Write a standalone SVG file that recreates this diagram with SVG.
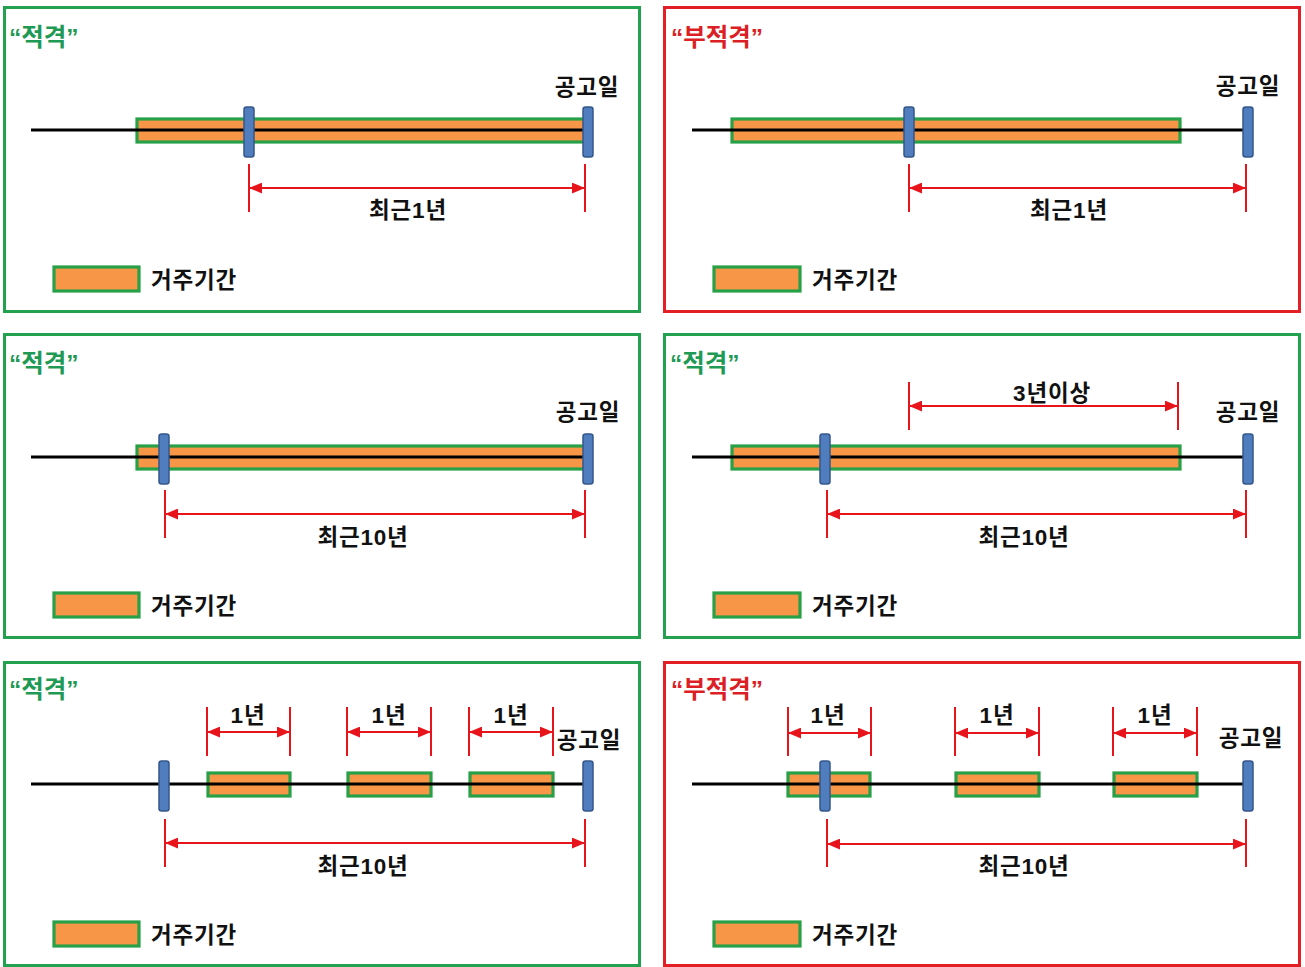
<svg xmlns="http://www.w3.org/2000/svg" width="1305" height="967" viewBox="0 0 1305 967">
<style>
text{font-family:"Liberation Sans","Noto Sans CJK KR",sans-serif;font-weight:bold;font-size:22.5px;letter-spacing:0.8px;fill:#111}
.c{text-anchor:middle}
.tg,.tr{font-size:24.5px;letter-spacing:0}
.tg{fill:#1f9a55}
.tr{fill:#dc1f26}
.fg{fill:#fff;stroke:#22a24f;stroke-width:3}
.fr{fill:#fff;stroke:#e31e24;stroke-width:3}
.bar{fill:#f79646;stroke:#27a047;stroke-width:3.2}
.tl{stroke:#000;stroke-width:3.2}
.tk{fill:#4f7dbd;stroke:#34578c;stroke-width:1.5}
.dl{stroke:#e8141c;stroke-width:2;fill:none}
.da{stroke:#e8141c;stroke-width:2;fill:none;marker-start:url(#ah);marker-end:url(#ah)}
</style>
<defs>
<marker id="ah" markerUnits="userSpaceOnUse" markerWidth="13" markerHeight="11" refX="12" refY="5" orient="auto-start-reverse" viewBox="0 0 12 10">
<path d="M0,0 L12,5 L0,10 z" fill="#e8141c"/>
</marker>
</defs>
<rect width="1305" height="967" fill="#fff"/>

<g id="panel-tl">
<rect class="fg" x="4.5" y="7.5" width="635" height="304"/>
<text class="tg" x="9" y="46">“적격”</text>
<rect class="bar" x="137" y="119" width="448" height="23"/>
<line class="tl" x1="31" y1="130" x2="587" y2="130"/>
<rect class="tk" x="244" y="107" width="10" height="50" rx="2.5"/>
<rect class="tk" x="583" y="107" width="10" height="50" rx="2.5"/>
<text class="c" x="587" y="95">공고일</text>
<text class="c" x="408" y="218">최근1년</text>
<rect class="bar" x="54" y="267" width="85" height="24"/>
<text x="151" y="288">거주기간</text>
</g>

<g id="panel-tr">
<rect class="fr" x="664.5" y="7.5" width="635" height="304"/>
<text class="tr" x="671" y="46">“부적격”</text>
<rect class="bar" x="732" y="119" width="448" height="23"/>
<line class="tl" x1="692" y1="130" x2="1248" y2="130"/>
<rect class="tk" x="904" y="107" width="10" height="50" rx="2.5"/>
<rect class="tk" x="1243" y="107" width="10" height="50" rx="2.5"/>
<text class="c" x="1248" y="94">공고일</text>
<text class="c" x="1069" y="218">최근1년</text>
<rect class="bar" x="714" y="267" width="86" height="24"/>
<text x="812" y="288">거주기간</text>
</g>

<g id="panel-ml">
<rect class="fg" x="4.5" y="334.5" width="635" height="303"/>
<text class="tg" x="9" y="372">“적격”</text>
<rect class="bar" x="137" y="446" width="448" height="23"/>
<line class="tl" x1="31" y1="457" x2="587" y2="457"/>
<rect class="tk" x="159" y="434" width="10" height="50" rx="2.5"/>
<rect class="tk" x="583" y="434" width="10" height="50" rx="2.5"/>
<text class="c" x="588" y="420">공고일</text>
<text class="c" x="363" y="545">최근10년</text>
<rect class="bar" x="54" y="593" width="85" height="24"/>
<text x="151" y="614">거주기간</text>
</g>

<g id="panel-mr">
<rect class="fg" x="664.5" y="334.5" width="635" height="303"/>
<text class="tg" x="670" y="372">“적격”</text>
<rect class="bar" x="732" y="446" width="448" height="23"/>
<line class="tl" x1="692" y1="457" x2="1248" y2="457"/>
<rect class="tk" x="820" y="434" width="10" height="50" rx="2.5"/>
<rect class="tk" x="1243" y="434" width="10" height="50" rx="2.5"/>
<text class="c" x="1052" y="401">3년이상</text>
<text class="c" x="1248" y="420">공고일</text>
<text class="c" x="1024" y="545">최근10년</text>
<rect class="bar" x="714" y="593" width="86" height="24"/>
<text x="812" y="614">거주기간</text>
</g>

<g id="panel-bl">
<rect class="fg" x="4.5" y="662.5" width="635" height="303"/>
<text class="tg" x="9" y="698">“적격”</text>
<rect class="bar" x="208" y="773" width="82" height="23"/>
<rect class="bar" x="348" y="773" width="83" height="23"/>
<rect class="bar" x="470" y="773" width="83" height="23"/>
<line class="tl" x1="31" y1="784" x2="587" y2="784"/>
<rect class="tk" x="159" y="761" width="10" height="50" rx="2.5"/>
<rect class="tk" x="583" y="761" width="10" height="50" rx="2.5"/>
<text class="c" x="248" y="723">1년</text>
<text class="c" x="389" y="723">1년</text>
<text class="c" x="511" y="723">1년</text>
<text class="c" x="589" y="748">공고일</text>
<text class="c" x="363" y="874">최근10년</text>
<rect class="bar" x="54" y="922" width="85" height="24"/>
<text x="151" y="943">거주기간</text>
</g>

<g id="panel-br">
<rect class="fr" x="664.5" y="662.5" width="635" height="303"/>
<text class="tr" x="671" y="698">“부적격”</text>
<rect class="bar" x="788" y="773" width="82" height="23"/>
<rect class="bar" x="956" y="773" width="83" height="23"/>
<rect class="bar" x="1114" y="773" width="83" height="23"/>
<line class="tl" x1="692" y1="784" x2="1248" y2="784"/>
<rect class="tk" x="820" y="761" width="10" height="50" rx="2.5"/>
<rect class="tk" x="1243" y="761" width="10" height="50" rx="2.5"/>
<text class="c" x="828" y="723">1년</text>
<text class="c" x="997" y="723">1년</text>
<text class="c" x="1155" y="723">1년</text>
<text class="c" x="1251" y="746">공고일</text>
<text class="c" x="1024" y="874">최근10년</text>
<rect class="bar" x="714" y="922" width="86" height="24"/>
<text x="812" y="943">거주기간</text>
</g>

<g id="connectors">
<path class="dl" d="M249,164V212M585,164V212"/>
<line class="da" x1="249" y1="188" x2="585" y2="188"/>
<path class="dl" d="M909,164V212M1246,164V212"/>
<line class="da" x1="909" y1="188" x2="1246" y2="188"/>
<path class="dl" d="M165,490V538M585,490V538"/>
<line class="da" x1="165" y1="514" x2="585" y2="514"/>
<path class="dl" d="M909,382V430M1178,382V430"/>
<line class="da" x1="909" y1="406" x2="1178" y2="406"/>
<path class="dl" d="M827,490V538M1246,490V538"/>
<line class="da" x1="827" y1="514" x2="1246" y2="514"/>
<path class="dl" d="M207,707V756M290,707V756M347,707V756M431,707V756M469,707V756M553,707V756"/>
<line class="da" x1="207" y1="732" x2="290" y2="732"/>
<line class="da" x1="347" y1="732" x2="431" y2="732"/>
<line class="da" x1="469" y1="732" x2="553" y2="732"/>
<path class="dl" d="M165,819V867M585,819V867"/>
<line class="da" x1="165" y1="843" x2="585" y2="843"/>
<path class="dl" d="M788,707V756M871,707V756M955,707V756M1039,707V756M1113,707V756M1197,707V756"/>
<line class="da" x1="788" y1="733" x2="871" y2="733"/>
<line class="da" x1="955" y1="733" x2="1039" y2="733"/>
<line class="da" x1="1113" y1="733" x2="1197" y2="733"/>
<path class="dl" d="M827,819V867M1246,819V867"/>
<line class="da" x1="827" y1="844" x2="1246" y2="844"/>
</g>
</svg>
